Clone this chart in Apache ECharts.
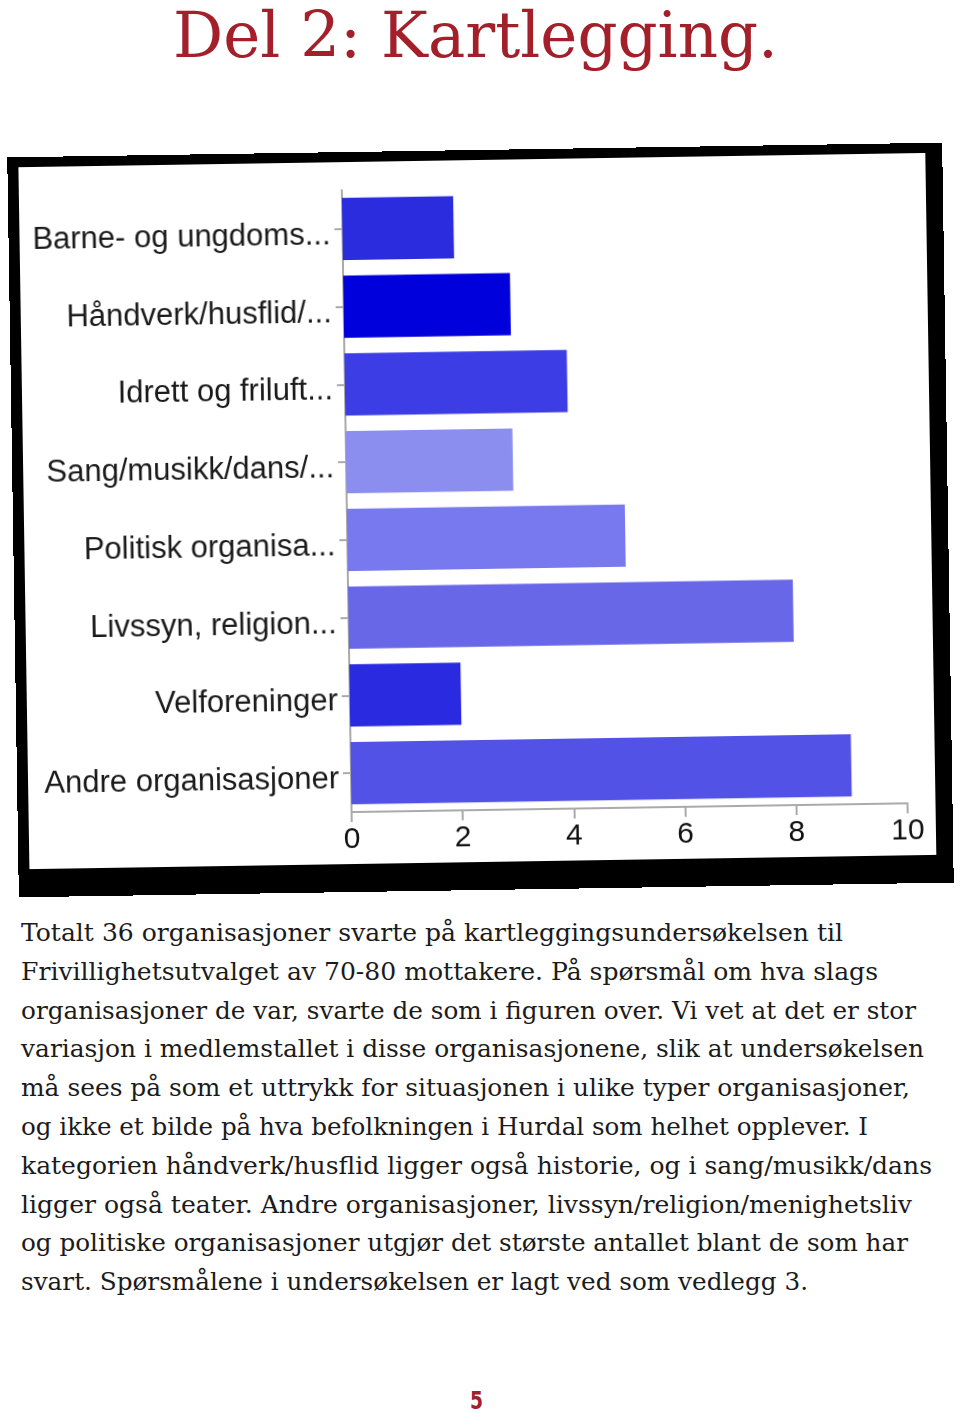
<!DOCTYPE html>
<html>
<head>
<meta charset="utf-8">
<script src="https://cdn.jsdelivr.net/npm/echarts@6/dist/echarts.min.js"></script>
<style>
  html, body { margin: 0; padding: 0; background: #fff; }
  body { width: 960px; height: 1413px; position: relative; overflow: hidden; }
  .fit { position: absolute; white-space: pre; transform-origin: 0 0; display: inline-block; }
  #title { font-family: 'DejaVu Serif', serif; color: #a3202a; font-size: 63px; line-height: 1; }
  .body { font-family: 'DejaVu Serif', serif; color: #1b1b1b; font-size: 25px; line-height: 1; }
  #pnum { font-family: 'DejaVu Sans Condensed', 'DejaVu Sans', sans-serif; font-weight: bold; color: #a3202a; font-size: 24px; line-height: 1; }
  #frame { position: absolute; left: 13px; top: 150px; width: 935px; height: 740px; transform: rotate(-0.9deg); transform-origin: 50% 50%; }
  #chart { position: absolute; left: 0; top: 0; width: 935px; height: 740px; }
  #border { position: absolute; left: 0; top: 0; width: 935px; height: 740px; box-sizing: border-box;
            border-style: solid; border-color: #000; border-width: 10px 17px 28px 11px; pointer-events: none; }
</style>
</head>
<body>
<div id="title" class="fit">Del 2: Kartlegging.</div>
<div id="frame"><div id="chart"></div><div id="border"></div></div>
<div id="text"></div>
<div id="pnum" class="fit">5</div>
<script>
// ---- chart data ----
const categories = [
  'Barne- og ungdoms...',
  'Håndverk/husflid/...',
  'Idrett og friluft...',
  'Sang/musikk/dans/...',
  'Politisk organisa...',
  'Livssyn, religion...',
  'Velforeninger',
  'Andre organisasjoner'
];
const counts = [2, 3, 4, 3, 5, 8, 2, 9];
const barColors = ['#2c2cdf', '#0000dc', '#3d3de6', '#8b8eee', '#7879ee', '#6767e8', '#2a2ae0', '#5252e6'];
const xTicks = [0, 2, 4, 6, 8, 10];

// ---- page text ----
const titleText = 'Del 2: Kartlegging.';
const bodyLines = [
  'Totalt 36 organisasjoner svarte på kartleggingsundersøkelsen til',
  'Frivillighetsutvalget av 70-80 mottakere. På spørsmål om hva slags',
  'organisasjoner de var, svarte de som i figuren over. Vi vet at det er stor',
  'variasjon i medlemstallet i disse organisasjonene, slik at undersøkelsen',
  'må sees på som et uttrykk for situasjonen i ulike typer organisasjoner,',
  'og ikke et bilde på hva befolkningen i Hurdal som helhet opplever. I',
  'kategorien håndverk/husflid ligger også historie, og i sang/musikk/dans',
  'ligger også teater. Andre organisasjoner, livssyn/religion/menighetsliv',
  'og politiske organisasjoner utgjør det største antallet blant de som har',
  'svart. Spørsmålene i undersøkelsen er lagt ved som vedlegg 3.'
];
const lineWidths = [822, 857, 895, 903, 889, 847, 911, 891, 887, 787];
const pageNumber = '5';

// layout of text
function fit(el, left, top, width) {
  el.style.left = left + 'px';
  el.style.top = top + 'px';
  const w = el.getBoundingClientRect().width;
  el.style.transform = 'scaleX(' + (width / w) + ')';
}
const titleEl = document.getElementById('title');
titleEl.textContent = titleText;
fit(titleEl, 173, 4, 605);
const textDiv = document.getElementById('text');
bodyLines.forEach((s, i) => {
  const d = document.createElement('div');
  d.className = 'fit body';
  d.textContent = s;
  textDiv.appendChild(d);
  fit(d, 21, 920 + i * 38.8, lineWidths[i]);
});
const pn = document.getElementById('pnum');
pn.textContent = pageNumber;
fit(pn, 470, 1389, 13);

// ---- chart ----
const chart = echarts.init(document.getElementById('chart'), null, { renderer: 'canvas' });
chart.setOption({
  animation: false,
  backgroundColor: '#fff',
  grid: { left: 334, top: 38, width: 556, height: 622, containLabel: false },
  xAxis: {
    type: 'value', min: 0, max: 10, interval: 2,
    axisLine: { show: true, lineStyle: { color: '#aaaaaa', width: 2 } },
    axisTick: { show: true, length: 10, lineStyle: { color: '#aaaaaa', width: 2 } },
    splitLine: { show: false },
    axisLabel: {
      margin: 13, color: '#111', fontFamily: 'Liberation Sans, Arial, sans-serif', fontSize: 30,
      formatter: v => xTicks.includes(v) ? String(v) : ''
    }
  },
  yAxis: {
    type: 'category', data: categories, inverse: true,
    axisLine: { show: true, lineStyle: { color: '#aaaaaa', width: 2 } },
    axisTick: { show: true, alignWithLabel: true, length: 8, lineStyle: { color: '#aaaaaa', width: 2 } },
    axisLabel: {
      margin: 12,
      formatter: v => '{a|' + v + '}',
      rich: { a: { color: '#1a1a1a', fontFamily: 'Liberation Sans, Arial, sans-serif', fontSize: 31,
                   lineHeight: 34, padding: [13, 0, 0, 0] } }
    }
  },
  series: [{
    type: 'bar',
    data: counts.map((v, i) => ({ value: v, itemStyle: { color: barColors[i] } })),
    barCategoryGap: '20%'
  }]
});
</script>
</body>
</html>
